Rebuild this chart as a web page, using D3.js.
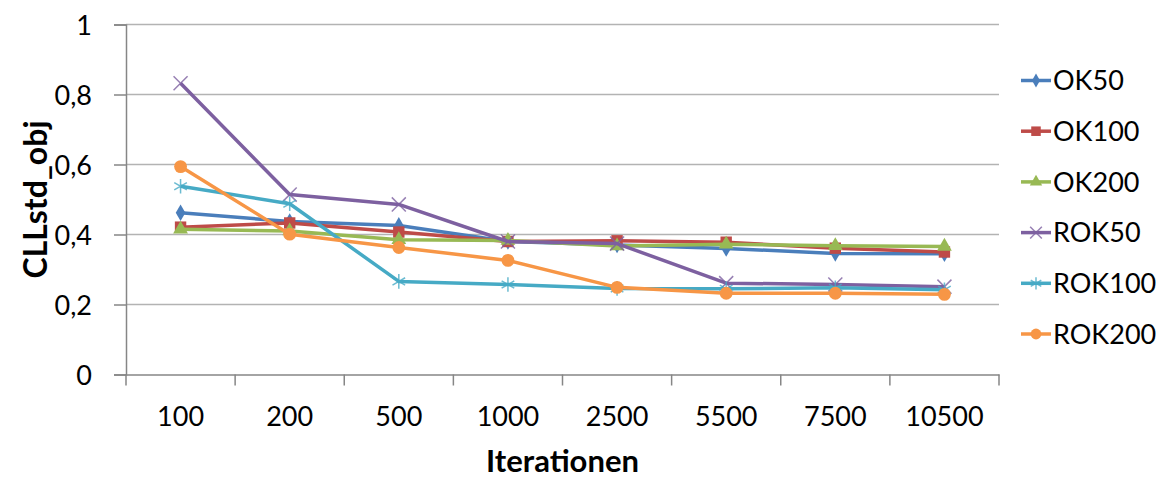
<!DOCTYPE html>
<html>
<head>
<meta charset="utf-8">
<script src="https://cdn.jsdelivr.net/npm/d3@7"></script>
<style>
  body { margin: 0; background: #fff; }
  text { font-family: Lato, "Open Sans", sans-serif; fill: #000; }
</style>
</head>
<body>
<svg id="chart" width="1164" height="479"></svg>
<script>
var iterations = ['100', '200', '500', '1000', '2500', '5500', '7500', '10500'];
var yTicks = [0, 0.2, 0.4, 0.6, 0.8, 1];

var ok50   = [0.462, 0.437, 0.426, 0.380, 0.370, 0.360, 0.346, 0.345];
var ok100  = [0.421, 0.433, 0.407, 0.380, 0.382, 0.378, 0.361, 0.350];
var ok200  = [0.415, 0.410, 0.385, 0.383, 0.367, 0.372, 0.368, 0.366];
var rok50  = [0.832, 0.514, 0.486, 0.380, 0.374, 0.261, 0.257, 0.251];
var rok100 = [0.538, 0.488, 0.266, 0.257, 0.246, 0.245, 0.248, 0.242];
var rok200 = [0.594, 0.401, 0.363, 0.326, 0.249, 0.232, 0.232, 0.229];

var names  = ['OK50', 'OK100', 'OK200', 'ROK50', 'ROK100', 'ROK200'];
var colors = ['#4A7EBB', '#BE4B48', '#98B954', '#7D60A0', '#46AAC5', '#F79646'];

var series = [ok50, ok100, ok200, rok50, rok100, rok200].map(function(vals, i) {
  return { name: names[i], color: colors[i], values: vals, idx: i };
});

var plotLeft = 126, plotRight = 999, plotTop = 24.5, plotBottom = 374.5;

var svg = d3.select('#chart');

var x = d3.scaleBand()
  .domain(iterations)
  .range([plotLeft, plotRight]);

var y = d3.scaleLinear()
  .domain([0, 1])
  .range([plotBottom, plotTop]);

// gridlines
svg.append('g')
  .selectAll('line')
  .data(yTicks.filter(function(d) { return d > 0; }))
  .enter().append('line')
  .attr('x1', plotLeft)
  .attr('x2', plotRight)
  .attr('y1', function(d) { return y(d); })
  .attr('y2', function(d) { return y(d); })
  .attr('stroke', '#b3b3b3')
  .attr('stroke-width', 1.5);

// y axis
var yAxis = svg.append('g')
  .attr('transform', 'translate(' + plotLeft + ',0)')
  .call(d3.axisLeft(y).tickValues(yTicks).tickSize(12).tickPadding(22)
    .tickFormat(function(d) { return d === 0 || d === 1 ? d : String(d).replace('.', ','); }));
yAxis.select('.domain').attr('stroke', '#868686').attr('stroke-width', 1.5);
yAxis.selectAll('.tick line').attr('stroke', '#868686').attr('stroke-width', 1.5);
yAxis.selectAll('.tick text').style('font-size', '27px').attr('dy', '0.36em');

// x axis
var xAxis = svg.append('g')
  .attr('transform', 'translate(0,' + plotBottom + ')')
  .call(d3.axisBottom(x).tickSize(0).tickPadding(32));
xAxis.select('.domain').attr('stroke', '#868686').attr('stroke-width', 1.5);
xAxis.selectAll('.tick text').style('font-size', '27px');

// x tick marks at band boundaries
svg.append('g')
  .selectAll('line')
  .data(iterations.concat(['end']))
  .enter().append('line')
  .attr('x1', function(d) { return d === 'end' ? plotRight : x(d); })
  .attr('x2', function(d) { return d === 'end' ? plotRight : x(d); })
  .attr('y1', plotBottom)
  .attr('y2', plotBottom + 11)
  .attr('stroke', '#868686')
  .attr('stroke-width', 1.5);

// axis titles
svg.append('text')
  .attr('x', (plotLeft + plotRight) / 2)
  .attr('y', 472)
  .attr('text-anchor', 'middle')
  .style('font-size', '31px')
  .style('font-weight', 'bold')
  .text('Iterationen');

svg.append('text')
  .attr('transform', 'translate(47,' + ((plotTop + plotBottom) / 2) + ') rotate(-90)')
  .attr('text-anchor', 'middle')
  .style('font-size', '32px')
  .style('font-weight', 'bold')
  .text('CLLstd_obj');

var symbols = [d3.symbolDiamond, d3.symbolSquare, d3.symbolTriangle, d3.symbolX, d3.symbolAsterisk, d3.symbolCircle];
var sizes = [80, 130, 95, 130, 150, 130];
var stroked = [false, false, false, true, true, false];

var line = d3.line()
  .x(function(d, i) { return x(iterations[i]) + x.bandwidth() / 2; })
  .y(function(d) { return y(d); });

function drawMarker(g, s, size) {
  var p = g.append('path')
    .attr('d', d3.symbol().type(symbols[s.idx]).size(size)());
  if (stroked[s.idx]) {
    p.attr('fill', 'none').attr('stroke', s.color).attr('stroke-width', 1.5).attr('opacity', 0.8);
  } else {
    p.attr('fill', s.color).attr('stroke', 'none');
  }
}

series.forEach(function(s) {
  var g = svg.append('g');
  g.append('path')
    .datum(s.values)
    .attr('d', line)
    .attr('fill', 'none')
    .attr('stroke', s.color)
    .attr('stroke-width', 3.5)
    .attr('stroke-linejoin', 'round');
  s.values.forEach(function(v, i) {
    var m = g.append('g')
      .attr('transform', 'translate(' + (x(iterations[i]) + x.bandwidth() / 2) + ',' + y(v) + ')');
    drawMarker(m, s, sizes[s.idx]);
  });
});

// legend
var legend = svg.append('g');
series.forEach(function(s, i) {
  var ly = 80.5 + i * 50.7;
  var item = legend.append('g');
  item.append('line')
    .attr('x1', 1021).attr('x2', 1051)
    .attr('y1', ly).attr('y2', ly)
    .attr('stroke', s.color)
    .attr('stroke-width', 3.5);
  var m = item.append('g').attr('transform', 'translate(1036,' + ly + ')');
  drawMarker(m, s, sizes[s.idx] * 0.7);
  item.append('text')
    .attr('x', 1053)
    .attr('y', ly)
    .attr('dy', '0.36em')
    .style('font-size', '27px')
    .text(s.name);
});
</script>
</body>
</html>
